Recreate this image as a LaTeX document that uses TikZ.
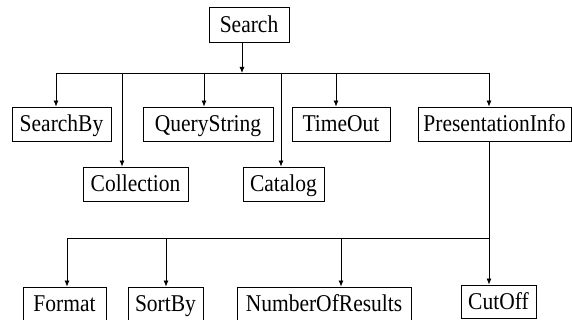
\documentclass[tikz,border=0pt]{standalone}
\usepackage{fontspec}
\setmainfont{Liberation Serif}
\newfontfamily\tmsfont{Liberation Serif}
\usetikzlibrary{arrows.meta}
\newcommand{\vstr}[1]{\scalebox{1}[1.12]{#1}}
\begin{document}
\begin{tikzpicture}[x=1pt,y=1pt,
  box/.style={draw,line width=0.8pt,inner sep=0pt,minimum height=34pt,text height=19pt,text depth=3pt,font=\tmsfont\fontsize{21.5}{24}\selectfont,anchor=center},
  arr/.style={line width=0.8pt,-{Latex[length=6pt,width=5pt]}},
  ln/.style={line width=0.8pt}]
\useasboundingbox (0,0) rectangle (572,320);
\node[box,minimum width=80pt,minimum height=35pt] (search) at (249,295.5) {\vstr{Search}};
\node[box,minimum width=99pt] (searchby) at (61.5,196) {\vstr{SearchBy}};
\node[box,minimum width=130pt] (query) at (208,196) {\vstr{QueryString}};
\node[box,minimum width=98pt] (timeout) at (341,196) {\vstr{TimeOut}};
\node[box,minimum width=153pt] (pres) at (494.5,196) {\vstr{PresentationInfo}};
\node[box,minimum width=105pt] (coll) at (135.5,136) {\vstr{Collection}};
\node[box,minimum width=81pt] (cat) at (283.5,136) {\vstr{Catalog}};
\node[box,minimum width=83pt] (format) at (64.5,16) {\vstr{Format}};
\node[box,minimum width=75pt] (sortby) at (165.5,16) {\vstr{SortBy}};
\node[box,minimum width=174pt] (numres) at (324,16) {\vstr{NumberOfResults}};
\node[box,minimum width=75pt,minimum height=33pt] (cutoff) at (498.5,18.5) {\vstr{CutOff}};
\coordinate (b1l) at (56,247);
\coordinate (b1r) at (489,247);
\coordinate (b2l) at (67,82);
\coordinate (b2r) at (489,82);
% first level
\draw[arr] (242,0 |- search.south) -- (242,247);
\draw[ln] (b1l) -- (b1r);
\draw[arr] (b1l) -- (b1l |- searchby.north);
\draw[arr] (122,247) -- (122,0 |- coll.north);
\draw[arr] (204,247) -- (204,0 |- query.north);
\draw[arr] (281,247) -- (281,0 |- cat.north);
\draw[arr] (336,247) -- (336,0 |- timeout.north);
\draw[arr] (b1r) -- (b1r |- pres.north);
% second level
\draw[ln] (b2r |- pres.south) -- (b2r) -- (b2l);
\draw[arr] (b2l) -- (b2l |- format.north);
\draw[arr] (166,82) -- (166,0 |- sortby.north);
\draw[arr] (341,82) -- (341,0 |- numres.north);
\draw[arr] (b2r) -- (b2r |- cutoff.north);
\end{tikzpicture}
\end{document}
